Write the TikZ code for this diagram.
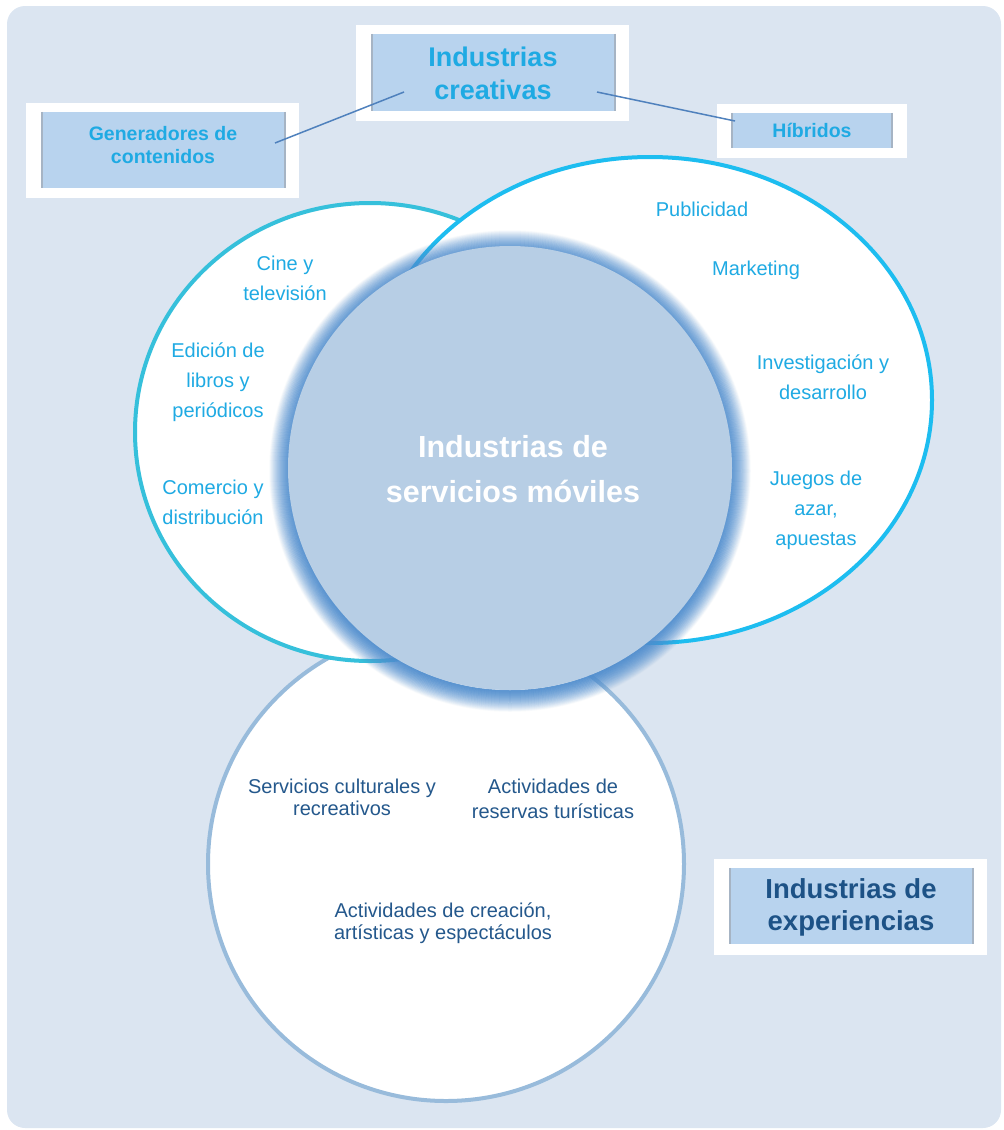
\documentclass[tikz,border=0pt]{standalone}
\usepackage{xcolor}
\usepackage{fontspec}
\setmainfont{Liberation Sans}
\usepackage{tikz}

\definecolor{bgblue}{HTML}{DBE5F1}
\definecolor{leftring}{HTML}{36C0DB}
\definecolor{rightring}{HTML}{1DBDF0}
\definecolor{bottomring}{HTML}{98BBDB}
\definecolor{corefill}{HTML}{B7CEE5}
\definecolor{glowblue}{HTML}{4F8DCE}
\definecolor{boxblue}{HTML}{B8D3EE}
\definecolor{boxedge}{HTML}{A6B4C4}
\definecolor{itemcyan}{HTML}{1FAAE3}
\definecolor{itemdark}{HTML}{24588C}
\definecolor{expdark}{HTML}{1D5286}
\definecolor{linkblue}{HTML}{4F81BD}

\tikzset{
  panel/.style={fill=white, inner sep=0pt},
  tag/.style={fill=boxblue, inner sep=0pt},
  tagtext/.style={align=center, inner sep=0pt},
  tagedge/.style={draw=boxedge, line width=1.5pt},
  item/.style={text=itemcyan, align=center, font=\fontsize{20}{30}\selectfont},
  activity/.style={text=itemdark, align=center, font=\fontsize{20}{22}\selectfont},
  link/.style={draw=linkblue, line width=1.5pt}
}

\begin{document}
\begin{tikzpicture}[x=1pt, y=-1pt]
    \useasboundingbox (0,0) rectangle (1004,1130);
    \fill[bgblue, rounded corners=18pt] (7,6) rectangle (1001,1128);

    % the three sets
    \draw[draw=bottomring, line width=4pt, fill=white] (446,864) ellipse (238 and 237);
    \draw[draw=leftring, line width=4pt, fill=white] (370,432) ellipse (235 and 229);
    \draw[draw=rightring, line width=4pt, fill=white] (650,400) ellipse (282 and 243);

    % core with soft glow
    \coordinate (glowc) at (510,471);
    \foreach \i [evaluate=\i as \op using {0.8*(1-\i/22)^1.1}] in {0.5,1,...,21.5}
      \draw[glowblue, line width=1pt, opacity=\op] (glowc) circle ({219+\i});
    \node[circle, fill=corefill, minimum size=444pt, inner sep=0pt] (core) at (510,468) {};
    \node[text=white, align=center, font=\bfseries\fontsize{30.5}{45}\selectfont]
      (coretitle) at (513,469) {Industrias de\\servicios móviles};

    % labels in the sets
    \node[item] (cine) at (285,278) {Cine y\\televisión};
    \node[item] (edicion) at (218,382) {Edición de\\libros y\\periódicos};
    \node[item] (comercio) at (213,502) {Comercio y\\distribución};
    \node[item] (publicidad) at (702,209) {Publicidad};
    \node[item] (marketing) at (756,270) {Marketing};
    \node[item] (idi) at (823,377) {Investigación y\\desarrollo};
    \node[item] (juegos) at (816,510) {Juegos de\\azar,\\apuestas};
    \node[activity] (cultura) at (342,797) {Servicios culturales y\\recreativos};
    \node[activity, font=\fontsize{20}{25}\selectfont] (reservas) at (553,799)
      {Actividades de\\reservas turísticas};
    \node[activity] (creacion) at (443,923) {Actividades de creación,\\artísticas y espectáculos};

    % headings
    \node[panel, minimum width=273pt, minimum height=96pt] (creatpanel) at (492.5,73) {};
    \node[tag, minimum width=243pt, minimum height=77pt] (creat) at (493.5,72.5) {};
    \node[tagtext, text=itemcyan, font=\bfseries\fontsize{27}{33}\selectfont]
      (creattext) at (493,73) {Industrias\\creativas};
    \node[panel, minimum width=273pt, minimum height=95pt] (genpanel) at (162.5,150.5) {};
    \node[tag, minimum width=243pt, minimum height=76pt] (gen) at (163.5,150) {};
    \node[tagtext, text=itemcyan, font=\bfseries\fontsize{19.5}{23}\selectfont]
      (gentext) at (163,145) {Generadores de\\contenidos};
    \node[panel, minimum width=190pt, minimum height=54pt] (hibpanel) at (812,131) {};
    \node[tag, minimum width=160pt, minimum height=35pt] (hib) at (812,130.5) {};
    \node[tagtext, text=itemcyan, font=\bfseries\fontsize{19.5}{23}\selectfont]
      (hibtext) at (812,130) {Híbridos};
    \node[panel, minimum width=273pt, minimum height=96pt] (exppanel) at (850.5,907) {};
    \node[tag, minimum width=243pt, minimum height=76pt] (exp) at (851.5,906) {};
    \node[tagtext, text=expdark, font=\bfseries\fontsize{27.5}{32}\selectfont]
      (exptext) at (851,907) {Industrias de\\experiencias};

    \foreach \t in {creat,gen,hib,exp} {
      \draw[tagedge] (\t.north west) -- (\t.south west);
      \draw[tagedge] (\t.north east) -- (\t.south east);
    }

    % links between headings
    \coordinate (creatL) at (404,92);
    \coordinate (creatR) at (597,92);
    \coordinate (genR) at (275,143);
    \coordinate (hibL) at (735,121);
    \draw[link] (creatL) -- (genR);
    \draw[link] (creatR) -- (hibL);
\end{tikzpicture}
\end{document}
